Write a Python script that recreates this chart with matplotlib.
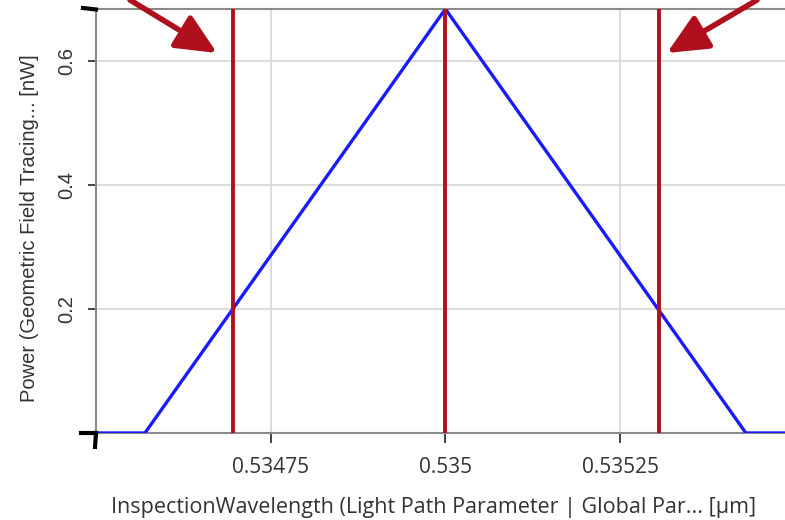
import matplotlib
matplotlib.use("Agg")
import matplotlib.pyplot as plt

# Data
wavelength = [0.53450, 0.53457, 0.53500, 0.53543, 0.53549]
power = [0.0, 0.0, 0.684, 0.0, 0.0]
marker_lines = [0.534696, 0.535, 0.535306]
x_ticks = [0.53475, 0.535, 0.53525]
x_tick_labels = ["0.53475", "0.535", "0.53525"]
y_ticks = [0.2, 0.4, 0.6]
y_tick_labels = ["0.2", "0.4", "0.6"]

W, H = 785, 520
fig = plt.figure(figsize=(W / 100, H / 100), dpi=100)
ax = fig.add_axes([96 / W, (H - 433) / H, (W - 96) / W, (433 - 9) / H])

ax.set_xlim(0.5345, 0.535486)
ax.set_ylim(0, 0.684)

ax.grid(True, color="#d9d9d9", linewidth=1.3)
ax.set_axisbelow(True)

ax.plot(wavelength, power, color="#1a1aff", linewidth=2.4, solid_joinstyle="round", zorder=3)
for xv in marker_lines:
    ax.axvline(xv, color="#b0101e", linewidth=2.8, zorder=4)

ax.set_xticks(x_ticks)
ax.set_xticklabels(x_tick_labels, fontfamily="Open Sans", fontsize=15, color="#333333")
ax.set_yticks(y_ticks)
ax.set_yticklabels(y_tick_labels, rotation=90, va="center", fontfamily="Liberation Sans",
                   fontsize=14.5, color="#333333")
ax.tick_params(axis="x", length=7, width=1.2, color="#222222", pad=10)
ax.tick_params(axis="y", length=6, width=1.2, color="#222222", pad=8)

for s in ["left", "top", "bottom"]:
    ax.spines[s].set_color("#8a8a8a")
    ax.spines[s].set_linewidth(1.5)
ax.spines["right"].set_visible(False)

ax.set_xlabel("InspectionWavelength (Light Path Parameter | Global Par... [µm]",
              fontfamily="Open Sans", fontsize=15.5, color="#333333")
ax.xaxis.set_label_coords((434 - 96) / (W - 96), -(508 - 433) / (433 - 9))
ax.xaxis.label.set_va("center")
ax.set_ylabel("Power (Geometric Field Tracing... [nW]", fontfamily="Liberation Sans",
              fontsize=14.5, color="#333333")
ax.yaxis.set_label_coords(-(96 - 30) / (W - 96), (433 - 228) / (433 - 9))
ax.yaxis.label.set_va("center")

# corner marks
fig.add_artist(plt.Line2D([83 / W, 96 / W], [(H - 8) / H, (H - 9.5) / H], color="black", linewidth=3))
fig.add_artist(plt.Line2D([81 / W, 96 / W], [(H - 433) / H, (H - 433) / H], color="black", linewidth=3))
fig.add_artist(plt.Line2D([96 / W, 95 / W], [(H - 433) / H, (H - 447) / H], color="black", linewidth=3))

# arrows
arrow_kw = dict(arrowstyle="-|>,head_length=1.3,head_width=0.6", color="#b0101e", lw=4,
                shrinkA=0, shrinkB=0)
fig.add_artist(matplotlib.patches.FancyArrowPatch((130 / W, 1.0), (217 / W, (H - 53) / H),
                                                  transform=fig.transFigure, mutation_scale=19, **arrow_kw))
fig.add_artist(matplotlib.patches.FancyArrowPatch((757 / W, 1.0), (667 / W, (H - 53) / H),
                                                  transform=fig.transFigure, mutation_scale=19, **arrow_kw))

fig.savefig("out.png", dpi=100)
